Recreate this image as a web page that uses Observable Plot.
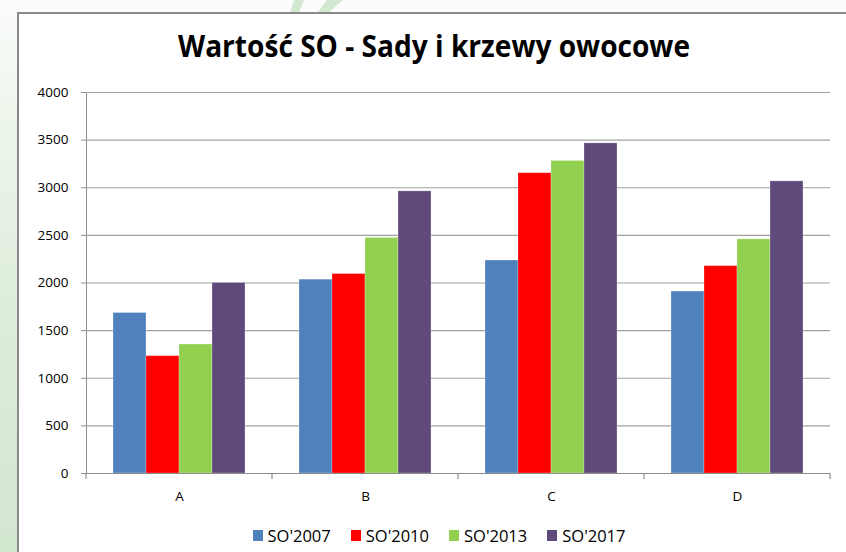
<!DOCTYPE html>
<html><head><meta charset="utf-8">
<script src="https://cdn.jsdelivr.net/npm/d3@7"></script>
<script src="https://cdn.jsdelivr.net/npm/@observablehq/plot@0.6"></script>
<style>
html,body{margin:0;padding:0;width:846px;height:552px;overflow:hidden;background:#fbfcfb;font-family:"Open Sans",sans-serif;}
#strip{position:absolute;left:0;top:0;width:18px;height:552px;background:linear-gradient(to bottom,#fbfcfb 0%,#eef6ec 20%,#dcecd9 60%,#d3e6d0 100%);}
#deco{position:absolute;left:0;top:0;}
#frame{position:absolute;left:17px;top:12px;width:900px;height:600px;border:2px solid #8a8a8a;background:#fff;box-sizing:border-box;}
#titlesvg{position:absolute;left:0;top:0;}
#chart{position:absolute;left:0;top:80px;}
#legend{position:absolute;left:0;top:524px;width:846px;display:flex;justify-content:center;padding-left:32px;box-sizing:border-box;font-size:16.5px;color:#000;}
#legend .item{display:flex;align-items:center;margin:0 10px;}
#legend .sw{width:10px;height:11px;margin-right:5px;}
</style></head>
<body>
<div id="strip"></div>
<svg id="deco" width="846" height="14">
  <polygon points="294,0 304,0 299,13 290,13" fill="#d3e8d0"/>
  <polygon points="327,0 343,0 328,13 317,13" fill="#d3e8d0"/>
</svg>
<div id="frame"></div>
<svg id="titlesvg" width="846" height="80">
  <text id="title" x="434" y="57" text-anchor="middle" font-family="Open Sans" font-weight="bold" font-size="29.5" textLength="512" lengthAdjust="spacingAndGlyphs" fill="#000">Wartość SO - Sady i krzewy owocowe</text>
</svg>
<div id="chart"></div>
<div id="legend"></div>
<script>
const groups = ["A", "B", "C", "D"];
const series = ["SO'2007", "SO'2010", "SO'2013", "SO'2017"];
const colors = ["#4F81BD", "#FF0000", "#92D050", "#604A7B"];
const so2007 = [1685, 2035, 2236, 1910];
const so2010 = [1232, 2094, 3153, 2177];
const so2013 = [1354, 2473, 3281, 2458];
const so2017 = [2000, 2962, 3466, 3067];
const yTicks = [0, 500, 1000, 1500, 2000, 2500, 3000, 3500, 4000];

const seriesValues = [so2007, so2010, so2013, so2017];
const data = [];
groups.forEach((g, i) => series.forEach((s, j) => data.push({group: g, series: s, value: seriesValues[j][i]})));

const plot = Plot.plot({
  width: 846,
  height: 440,
  marginLeft: 86,
  marginRight: 16,
  marginTop: 12,
  marginBottom: 47,
  style: {fontFamily: "Open Sans", fontSize: "13.5px", color: "#8c8c8c", background: "transparent", overflow: "visible"},
  fx: {domain: groups, padding: 0, label: null, axis: "bottom", tickSize: 0, tickPadding: 18},
  x: {domain: series, paddingInner: 0, paddingOuter: 0.765, axis: null},
  y: {domain: [0, 4000], ticks: yTicks, label: null, tickSize: 5, tickPadding: 13, line: true, tickFormat: d => String(d)},
  color: {domain: series, range: colors},
  marks: [
    Plot.ruleY(yTicks.filter(t => t > 0), {stroke: "#a0a0a0", strokeWidth: 1.2}),
    Plot.barY(data, {fx: "group", x: "series", y: "value", fill: "series", stroke: "#ffffff", strokeOpacity: 0.25, strokeWidth: 1}),
    Plot.ruleY([0], {stroke: "#8c8c8c", strokeWidth: 1.2})
  ]
});
document.getElementById("chart").appendChild(plot);

const svg = d3.select(plot);
svg.selectAll("text").attr("fill", "#000").style("font-size", "13.5px").style("font-family", "Open Sans");

// group boundary ticks on the category axis, placed with the plot's own scales
const fxd = plot.scale("fx");
const yd = plot.scale("y");
const fxs = d3.scaleBand().domain(fxd.domain).range(fxd.range)
  .paddingInner(fxd.paddingInner || 0).paddingOuter(fxd.paddingOuter || 0);
const ys = d3.scaleLinear().domain(yd.domain).range(yd.range);
const bounds = groups.map(g => fxs(g)).concat([fxs(groups[groups.length - 1]) + fxs.bandwidth()]);
const y0 = ys(0);
svg.append("g").selectAll("line").data(bounds).join("line")
  .attr("x1", d => d).attr("x2", d => d)
  .attr("y1", y0).attr("y2", y0 + 6)
  .attr("stroke", "#8c8c8c").attr("stroke-width", 1.2);

// legend
const legend = d3.select("#legend");
series.forEach((s, i) => {
  const it = legend.append("div").attr("class", "item");
  it.append("div").attr("class", "sw").style("background", colors[i]);
  it.append("span").text(s);
});
</script>
</body></html>
